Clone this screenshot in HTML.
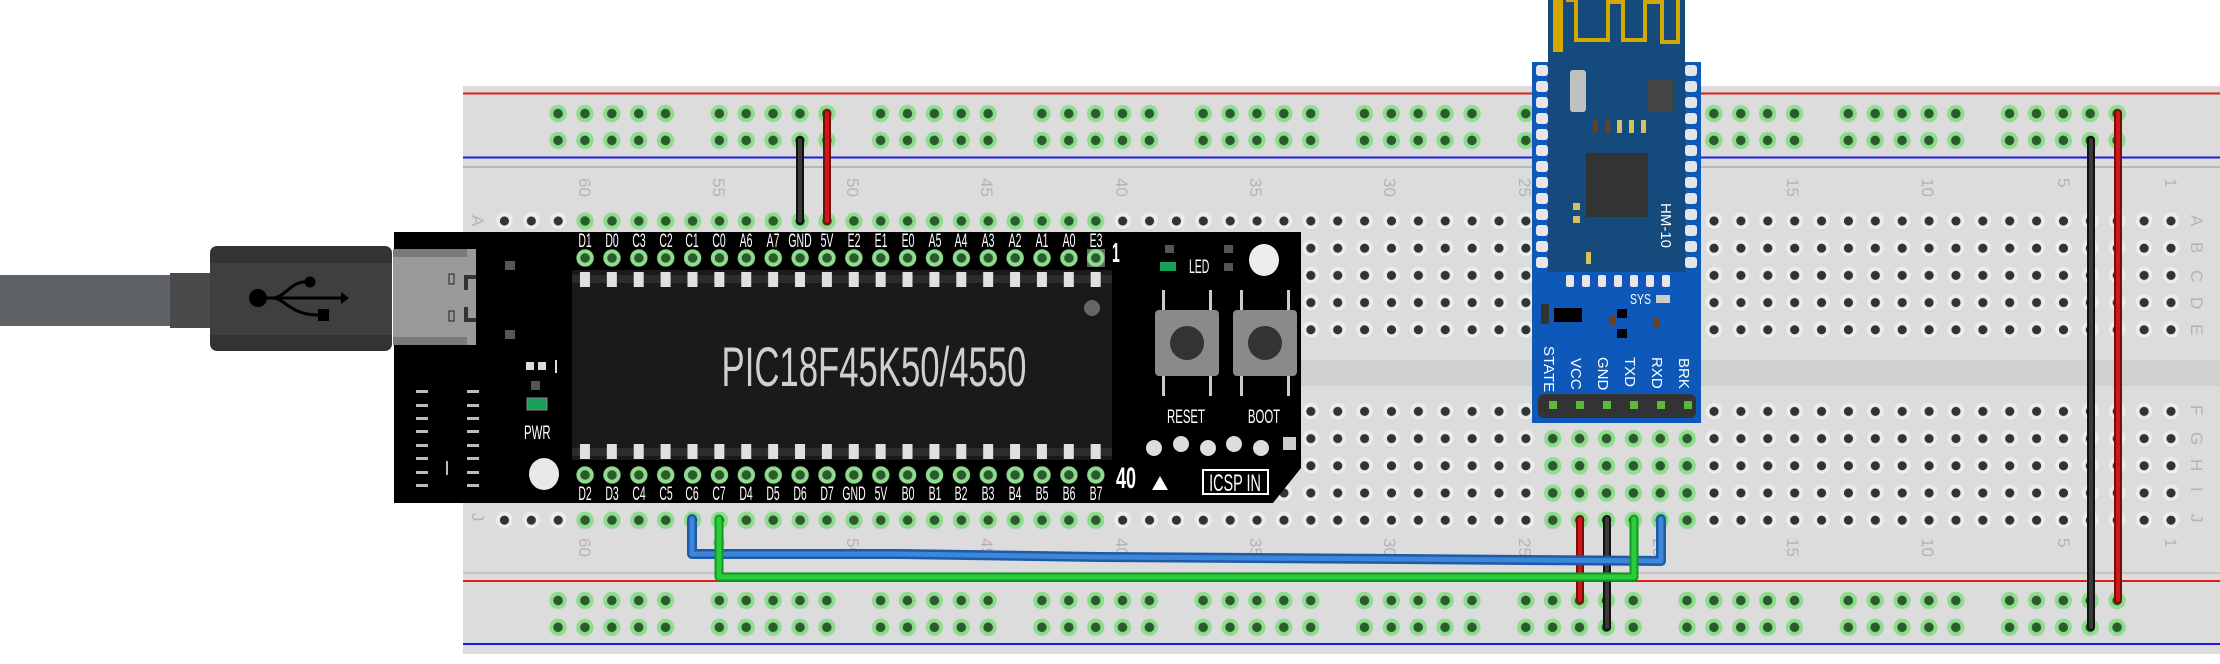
<!DOCTYPE html>
<html><head><meta charset="utf-8"><style>
html,body{margin:0;padding:0;background:#fff;width:2220px;height:664px;overflow:hidden}
svg{display:block}
.n{font-family:"Liberation Sans",sans-serif;font-size:17px;fill:#b4b4b4}
.pl{font-family:"Liberation Sans",sans-serif;font-size:19px;fill:#fff}
.hm{font-family:"Liberation Sans",sans-serif;font-size:15px;fill:#fff}
</style></head><body>
<svg width="2220" height="664" viewBox="0 0 2220 664" xmlns="http://www.w3.org/2000/svg">
<defs>
<pattern id="gh" patternUnits="userSpaceOnUse" x="491" y="207.4" width="26.88" height="27.2">
<circle cx="13.44" cy="14.2" r="8.5" fill="#c4c4c4"/><circle cx="13.44" cy="13.6" r="8.5" fill="#ececec"/><circle cx="13.44" cy="13.6" r="4.6" fill="#333"/>
</pattern>
<pattern id="gr" patternUnits="userSpaceOnUse" x="491" y="207.4" width="26.88" height="27.2">
<circle cx="13.44" cy="13.6" r="8.7" fill="#8fdc8f"/><circle cx="13.44" cy="13.6" r="4.8" fill="#2b5a2d"/>
</pattern>
<pattern id="rt" patternUnits="userSpaceOnUse" x="544.6" y="100.2" width="161.28" height="26.8">
<g fill="#8fdc8f"><circle cx="13.44" cy="13.4" r="8.7"/><circle cx="40.32" cy="13.4" r="8.7"/><circle cx="67.2" cy="13.4" r="8.7"/><circle cx="94.08" cy="13.4" r="8.7"/><circle cx="120.96" cy="13.4" r="8.7"/></g>
<g fill="#2b5a2d"><circle cx="13.44" cy="13.4" r="4.8"/><circle cx="40.32" cy="13.4" r="4.8"/><circle cx="67.2" cy="13.4" r="4.8"/><circle cx="94.08" cy="13.4" r="4.8"/><circle cx="120.96" cy="13.4" r="4.8"/></g>
</pattern>
<pattern id="rb" patternUnits="userSpaceOnUse" x="544.6" y="587.1" width="161.28" height="26.8">
<g fill="#8fdc8f"><circle cx="13.44" cy="13.4" r="8.7"/><circle cx="40.32" cy="13.4" r="8.7"/><circle cx="67.2" cy="13.4" r="8.7"/><circle cx="94.08" cy="13.4" r="8.7"/><circle cx="120.96" cy="13.4" r="8.7"/></g>
<g fill="#2b5a2d"><circle cx="13.44" cy="13.4" r="4.8"/><circle cx="40.32" cy="13.4" r="4.8"/><circle cx="67.2" cy="13.4" r="4.8"/><circle cx="94.08" cy="13.4" r="4.8"/><circle cx="120.96" cy="13.4" r="4.8"/></g>
</pattern>
<pattern id="pin" patternUnits="userSpaceOnUse" x="571.56" y="0" width="26.88" height="664">
<rect x="8.4" y="272" width="10" height="15" fill="#e0e0e0"/><rect x="8.4" y="444" width="10" height="15" fill="#e0e0e0"/>
</pattern>
</defs>

<rect x="463" y="86" width="1757" height="568" fill="#dcdcdc"/>
<rect x="463" y="92.5" width="1757" height="2" fill="#e21b1b"/>
<rect x="463" y="156.5" width="1757" height="2" fill="#1b1be2"/>
<rect x="463" y="166" width="1757" height="2" fill="#b8b8b8"/>
<rect x="463" y="580" width="1757" height="2" fill="#e21b1b"/>
<rect x="463" y="643" width="1757" height="2" fill="#1b1be2"/>
<rect x="463" y="572" width="1757" height="2" fill="#c4c4c4"/>
<rect x="463" y="360" width="1757" height="26" fill="#d0d0d0"/>
<rect x="544.6" y="100.2" width="1612.8" height="53.6" fill="url(#rt)"/>
<rect x="544.6" y="587.1" width="1612.8" height="53.6" fill="url(#rb)"/>
<rect x="491" y="207.4" width="1693.4" height="136" fill="url(#gh)"/>
<rect x="491" y="397.1" width="1693.4" height="136" fill="url(#gh)"/>
<rect x="571.56" y="207.4" width="537.6" height="27.2" fill="url(#gr)"/>
<rect x="571.56" y="506.3" width="537.6" height="27.2" fill="url(#gr)"/>
<rect x="1539.6" y="424.3" width="161.28" height="108.8" fill="url(#gr)"/>

<g class="n">
<text transform="translate(579,178) rotate(90)">60</text><text transform="translate(713,178) rotate(90)">55</text><text transform="translate(847,178) rotate(90)">50</text><text transform="translate(981,178) rotate(90)">45</text><text transform="translate(1116,178) rotate(90)">40</text><text transform="translate(1250,178) rotate(90)">35</text><text transform="translate(1384,178) rotate(90)">30</text><text transform="translate(1519,178) rotate(90)">25</text><text transform="translate(1653,178) rotate(90)">20</text><text transform="translate(1787,178) rotate(90)">15</text><text transform="translate(1922,178) rotate(90)">10</text><text transform="translate(2058,178) rotate(90)">5</text><text transform="translate(2165,178) rotate(90)">1</text>
<text transform="translate(579,538) rotate(90)">60</text><text transform="translate(713,538) rotate(90)">55</text><text transform="translate(847,538) rotate(90)">50</text><text transform="translate(981,538) rotate(90)">45</text><text transform="translate(1116,538) rotate(90)">40</text><text transform="translate(1250,538) rotate(90)">35</text><text transform="translate(1384,538) rotate(90)">30</text><text transform="translate(1519,538) rotate(90)">25</text><text transform="translate(1653,538) rotate(90)">20</text><text transform="translate(1787,538) rotate(90)">15</text><text transform="translate(1922,538) rotate(90)">10</text><text transform="translate(2058,538) rotate(90)">5</text><text transform="translate(2165,538) rotate(90)">1</text>
<text transform="translate(472,215) rotate(90)">A</text><text transform="translate(472,513) rotate(90)">J</text>
<text transform="translate(2191,215) rotate(90)">A</text><text transform="translate(2191,242) rotate(90)">B</text><text transform="translate(2191,270) rotate(90)">C</text><text transform="translate(2191,297) rotate(90)">D</text><text transform="translate(2191,324) rotate(90)">E</text>
<text transform="translate(2191,405) rotate(90)">F</text><text transform="translate(2191,432) rotate(90)">G</text><text transform="translate(2191,459) rotate(90)">H</text><text transform="translate(2191,487) rotate(90)">I</text><text transform="translate(2191,514) rotate(90)">J</text>
</g>

<rect x="0" y="275" width="172" height="51" fill="#5f6368"/>
<rect x="170" y="273" width="42" height="55" fill="#4a4a4c"/>
<rect x="210" y="246" width="182" height="105" rx="7" fill="#333335"/>
<rect x="210" y="263" width="182" height="72" fill="#3f3f41"/>
<circle cx="258" cy="298" r="9" fill="#000"/>
<path d="M258 298 H343 M272 298 C285 298 290 282 305 282 M272 298 C285 298 290 315 318 315" stroke="#000" stroke-width="3" fill="none"/>
<circle cx="310" cy="282" r="5.5" fill="#000"/>
<rect x="318" y="309" width="11" height="12" fill="#000"/>
<path d="M341 292 L349 298 L341 304 Z" fill="#000"/>

<path d="M394 232 H1301 V468 L1273 503 H394 Z" fill="#000"/>
<rect x="393" y="249" width="83" height="96" fill="#9a9a9a"/>
<rect x="393" y="249" width="74" height="8" fill="#7a7a7a"/>
<rect x="393" y="337" width="74" height="8" fill="#7a7a7a"/>
<rect x="449" y="274" width="5" height="10" fill="none" stroke="#222" stroke-width="1"/>
<rect x="449" y="311" width="5" height="10" fill="none" stroke="#222" stroke-width="1"/>
<path d="M466 290 V277 H476 M466 307 V320 H476" stroke="#333" stroke-width="4" fill="none"/>
<rect x="505" y="261" width="10" height="9" fill="#555"/>
<rect x="505" y="330" width="10" height="9" fill="#555"/>
<rect x="526" y="362" width="8" height="8" fill="#ddd"/><rect x="538" y="362" width="8" height="8" fill="#ddd"/><rect x="555" y="360" width="2" height="13" fill="#ddd"/>
<rect x="531" y="381" width="9" height="9" fill="#555"/>
<rect x="527" y="398" width="20" height="12" fill="#1aa05a" stroke="#888" stroke-width="1"/>
<text class="pl" transform="translate(524,439) scale(0.6,1)">PWR</text>
<ellipse cx="544" cy="474" rx="15" ry="16" fill="#e8e8e8"/>
<g fill="#bbb">
<rect x="416" y="390" width="12" height="3"/><rect x="416" y="404" width="12" height="3"/><rect x="416" y="417" width="12" height="3"/><rect x="416" y="430" width="12" height="3"/><rect x="416" y="444" width="12" height="3"/><rect x="416" y="457" width="12" height="3"/><rect x="416" y="471" width="12" height="3"/><rect x="416" y="484" width="12" height="3"/>
<rect x="467" y="390" width="12" height="3"/><rect x="467" y="404" width="12" height="3"/><rect x="467" y="417" width="12" height="3"/><rect x="467" y="430" width="12" height="3"/><rect x="467" y="444" width="12" height="3"/><rect x="467" y="457" width="12" height="3"/><rect x="467" y="471" width="12" height="3"/><rect x="467" y="484" width="12" height="3"/>
<rect x="446" y="461" width="2" height="14"/>
</g>
<rect x="1087" y="249" width="18" height="18" fill="#666"/>
<rect x="571.56" y="234.6" width="537.6" height="27.2" fill="url(#gr)" transform="translate(0,9.8)"/>
<rect x="571.56" y="452.2" width="537.6" height="27.2" fill="url(#gr)" transform="translate(0,9.2)"/>
<rect x="572" y="270" width="540" height="190" fill="#1a1a1a"/>
<rect x="572" y="275" width="540" height="8" fill="#2c2c2c"/>
<rect x="572" y="448" width="540" height="8" fill="#2c2c2c"/>
<rect x="572" y="270" width="540" height="190" fill="url(#pin)"/>
<circle cx="1092" cy="308" r="8" fill="#666"/>
<text transform="translate(874,386) scale(0.62,1)" text-anchor="middle" font-family="Liberation Sans, sans-serif" font-size="56" fill="#cfcfcf">PIC18F45K50/4550</text>
<g class="pl" text-anchor="middle">
<g transform="translate(0,247)">
<text transform="translate(585,0) scale(0.55,1)">D1</text><text transform="translate(612,0) scale(0.55,1)">D0</text><text transform="translate(639,0) scale(0.55,1)">C3</text><text transform="translate(666,0) scale(0.55,1)">C2</text><text transform="translate(692,0) scale(0.55,1)">C1</text><text transform="translate(719,0) scale(0.55,1)">C0</text><text transform="translate(746,0) scale(0.55,1)">A6</text><text transform="translate(773,0) scale(0.55,1)">A7</text><text transform="translate(800,0) scale(0.55,1)">GND</text><text transform="translate(827,0) scale(0.55,1)">5V</text><text transform="translate(854,0) scale(0.55,1)">E2</text><text transform="translate(881,0) scale(0.55,1)">E1</text><text transform="translate(908,0) scale(0.55,1)">E0</text><text transform="translate(935,0) scale(0.55,1)">A5</text><text transform="translate(961,0) scale(0.55,1)">A4</text><text transform="translate(988,0) scale(0.55,1)">A3</text><text transform="translate(1015,0) scale(0.55,1)">A2</text><text transform="translate(1042,0) scale(0.55,1)">A1</text><text transform="translate(1069,0) scale(0.55,1)">A0</text><text transform="translate(1096,0) scale(0.55,1)">E3</text>
</g>
<g transform="translate(0,500)">
<text transform="translate(585,0) scale(0.55,1)">D2</text><text transform="translate(612,0) scale(0.55,1)">D3</text><text transform="translate(639,0) scale(0.55,1)">C4</text><text transform="translate(666,0) scale(0.55,1)">C5</text><text transform="translate(692,0) scale(0.55,1)">C6</text><text transform="translate(719,0) scale(0.55,1)">C7</text><text transform="translate(746,0) scale(0.55,1)">D4</text><text transform="translate(773,0) scale(0.55,1)">D5</text><text transform="translate(800,0) scale(0.55,1)">D6</text><text transform="translate(827,0) scale(0.55,1)">D7</text><text transform="translate(854,0) scale(0.55,1)">GND</text><text transform="translate(881,0) scale(0.55,1)">5V</text><text transform="translate(908,0) scale(0.55,1)">B0</text><text transform="translate(935,0) scale(0.55,1)">B1</text><text transform="translate(961,0) scale(0.55,1)">B2</text><text transform="translate(988,0) scale(0.55,1)">B3</text><text transform="translate(1015,0) scale(0.55,1)">B4</text><text transform="translate(1042,0) scale(0.55,1)">B5</text><text transform="translate(1069,0) scale(0.55,1)">B6</text><text transform="translate(1096,0) scale(0.55,1)">B7</text>
</g>
</g>
<text x="1112" y="262" font-family="Liberation Sans, sans-serif" font-size="28" font-weight="bold" fill="#fff" transform="translate(1112,0) scale(0.5,1) translate(-1112,0)">1</text>
<rect x="1165" y="245" width="9" height="8" fill="#555"/><rect x="1224" y="245" width="9" height="8" fill="#555"/><rect x="1224" y="263" width="9" height="8" fill="#555"/>
<rect x="1160" y="262" width="16" height="9" fill="#1aa05a"/>
<text class="pl" transform="translate(1189,273) scale(0.55,1)">LED</text>
<ellipse cx="1264" cy="260" rx="15" ry="16" fill="#eee"/>
<g>
<rect x="1162" y="290" width="3" height="20" fill="#ccc"/><rect x="1209" y="290" width="3" height="20" fill="#ccc"/><rect x="1162" y="376" width="3" height="20" fill="#ccc"/><rect x="1209" y="376" width="3" height="20" fill="#ccc"/>
<rect x="1155" y="310" width="64" height="66" rx="4" fill="#8a8a8a"/><circle cx="1187" cy="343" r="17" fill="#333"/>
<rect x="1240" y="290" width="3" height="20" fill="#ccc"/><rect x="1287" y="290" width="3" height="20" fill="#ccc"/><rect x="1240" y="376" width="3" height="20" fill="#ccc"/><rect x="1287" y="376" width="3" height="20" fill="#ccc"/>
<rect x="1233" y="310" width="64" height="66" rx="4" fill="#8a8a8a"/><circle cx="1265" cy="343" r="17" fill="#333"/>
</g>
<text class="pl" text-anchor="middle" transform="translate(1186,423) scale(0.6,1)">RESET</text>
<text class="pl" text-anchor="middle" transform="translate(1264,423) scale(0.6,1)">BOOT</text>
<g fill="#ddd"><circle cx="1154" cy="448" r="8"/><circle cx="1181" cy="444" r="8"/><circle cx="1208" cy="448" r="8"/><circle cx="1234" cy="444" r="8"/><circle cx="1261" cy="448" r="8"/></g>
<rect x="1283" y="437" width="13" height="13" fill="#ccc"/>
<text x="1116" y="488" font-family="Liberation Sans, sans-serif" font-size="30" font-weight="bold" fill="#fff" transform="translate(1116,0) scale(0.6,1) translate(-1116,0)">40</text>
<path d="M1152 490 L1160 476 L1168 490 Z" fill="#fff"/>
<rect x="1202" y="469" width="67" height="26" fill="#fff"/>
<rect x="1204" y="471" width="63" height="22" fill="#000"/>
<text text-anchor="middle" font-family="Liberation Sans, sans-serif" font-size="24" fill="#fff" transform="translate(1235,491) scale(0.6,1)">ICSP IN</text>

<rect x="1532" y="62" width="169" height="361" fill="#0d58b8"/>
<rect x="1548" y="0" width="137" height="272" fill="#154a7c"/>
<path d="M1556 0 V52 M1566 0 H1576 V40 H1608 V2 H1623 V40 H1645 V2 H1662 V42 H1678 V0" stroke="#d4a800" stroke-width="4" fill="none"/>
<rect x="1553" y="0" width="10" height="52" fill="#d4a800"/>
<g fill="#e6e6e6">
<rect x="1536" y="65" width="12" height="11" rx="3"/><rect x="1536" y="81" width="12" height="11" rx="3"/><rect x="1536" y="97" width="12" height="11" rx="3"/><rect x="1536" y="113" width="12" height="11" rx="3"/><rect x="1536" y="129" width="12" height="11" rx="3"/><rect x="1536" y="145" width="12" height="11" rx="3"/><rect x="1536" y="161" width="12" height="11" rx="3"/><rect x="1536" y="177" width="12" height="11" rx="3"/><rect x="1536" y="193" width="12" height="11" rx="3"/><rect x="1536" y="209" width="12" height="11" rx="3"/><rect x="1536" y="225" width="12" height="11" rx="3"/><rect x="1536" y="241" width="12" height="11" rx="3"/><rect x="1536" y="257" width="12" height="11" rx="3"/>
<rect x="1685" y="65" width="12" height="11" rx="3"/><rect x="1685" y="81" width="12" height="11" rx="3"/><rect x="1685" y="97" width="12" height="11" rx="3"/><rect x="1685" y="113" width="12" height="11" rx="3"/><rect x="1685" y="129" width="12" height="11" rx="3"/><rect x="1685" y="145" width="12" height="11" rx="3"/><rect x="1685" y="161" width="12" height="11" rx="3"/><rect x="1685" y="177" width="12" height="11" rx="3"/><rect x="1685" y="193" width="12" height="11" rx="3"/><rect x="1685" y="209" width="12" height="11" rx="3"/><rect x="1685" y="225" width="12" height="11" rx="3"/><rect x="1685" y="241" width="12" height="11" rx="3"/><rect x="1685" y="257" width="12" height="11" rx="3"/>
<rect x="1566" y="275" width="8" height="12" rx="2"/><rect x="1582" y="275" width="8" height="12" rx="2"/><rect x="1598" y="275" width="8" height="12" rx="2"/><rect x="1614" y="275" width="8" height="12" rx="2"/><rect x="1630" y="275" width="8" height="12" rx="2"/><rect x="1646" y="275" width="8" height="12" rx="2"/><rect x="1662" y="275" width="8" height="12" rx="2"/>
</g>
<rect x="1570" y="70" width="16" height="42" rx="3" fill="#c0c0c0"/>
<rect x="1647" y="80" width="26" height="32" fill="#444"/>
<rect x="1586" y="153" width="62" height="64" fill="#333"/>
<g fill="#d8c060"><rect x="1617" y="120" width="5" height="13"/><rect x="1629" y="120" width="5" height="13"/><rect x="1641" y="120" width="5" height="13"/><rect x="1573" y="203" width="7" height="7"/><rect x="1573" y="216" width="7" height="7"/><rect x="1586" y="252" width="5" height="12"/></g>
<g fill="#6a4020"><rect x="1593" y="120" width="5" height="13"/><rect x="1605" y="120" width="5" height="13"/><rect x="1610" y="315" width="6" height="10"/><rect x="1653" y="317" width="6" height="10"/></g>
<text class="hm" transform="translate(1661,203) rotate(90)" font-size="24">HM-10</text>
<text class="hm" x="1630" y="304" font-size="12" transform="translate(1630,0) scale(0.7,1) translate(-1630,0)">SYS</text>
<rect x="1656" y="295" width="14" height="8" fill="#ccc"/>
<rect x="1554" y="308" width="28" height="14" fill="#000"/>
<rect x="1541" y="304" width="8" height="20" fill="#333"/>
<rect x="1617" y="309" width="10" height="9" fill="#000"/><rect x="1617" y="329" width="10" height="9" fill="#000"/>
<g class="hm" font-size="14">
<text transform="translate(1544,346) rotate(90)">STATE</text>
<text transform="translate(1571,358) rotate(90)">VCC</text>
<text transform="translate(1598,357) rotate(90)">GND</text>
<text transform="translate(1625,357) rotate(90)">TXD</text>
<text transform="translate(1652,357) rotate(90)">RXD</text>
<text transform="translate(1679,358) rotate(90)">BRK</text>
</g>
<g fill="#333"><rect x="1538" y="394" width="158" height="24" rx="6"/></g>
<g fill="#5cb83c"><rect x="1549" y="401" width="8" height="8"/><rect x="1576" y="401" width="8" height="8"/><rect x="1603" y="401" width="8" height="8"/><rect x="1630" y="401" width="8" height="8"/><rect x="1657" y="401" width="8" height="8"/><rect x="1684" y="401" width="8" height="8"/></g>

<g fill="none" stroke-linecap="round" stroke-linejoin="round">
<path d="M800 140 V221" stroke="#111" stroke-width="8"/><path d="M800 140 V221" stroke="#3a3a3a" stroke-width="4"/>
<path d="M827 113 V221" stroke="#7a0c0c" stroke-width="8"/><path d="M827 113 V221" stroke="#cc1a1a" stroke-width="4"/>
<path d="M2091 140 V627" stroke="#111" stroke-width="8"/><path d="M2091 140 V627" stroke="#3a3a3a" stroke-width="4"/>
<path d="M2118 113 V600" stroke="#7a0c0c" stroke-width="8"/><path d="M2118 113 V600" stroke="#cc1a1a" stroke-width="4"/>
<path d="M1580 519 V600" stroke="#7a0c0c" stroke-width="8"/><path d="M1580 519 V600" stroke="#cc1a1a" stroke-width="4"/>
<path d="M1607 519 V627" stroke="#111" stroke-width="8"/><path d="M1607 519 V627" stroke="#3a3a3a" stroke-width="4"/>
<path d="M692 519 V554 H900 L1100 557 L1400 559 L1661 561 V519" stroke="#1d5aa8" stroke-width="10"/><path d="M692 519 V554 H900 L1100 557 L1400 559 L1661 561 V519" stroke="#3d86d8" stroke-width="5"/>
<path d="M719 519 V577 H1634 V519" stroke="#119a22" stroke-width="9"/><path d="M719 519 V577 H1634 V519" stroke="#2ccc3a" stroke-width="5"/>
</g>
</svg>
</body></html>
